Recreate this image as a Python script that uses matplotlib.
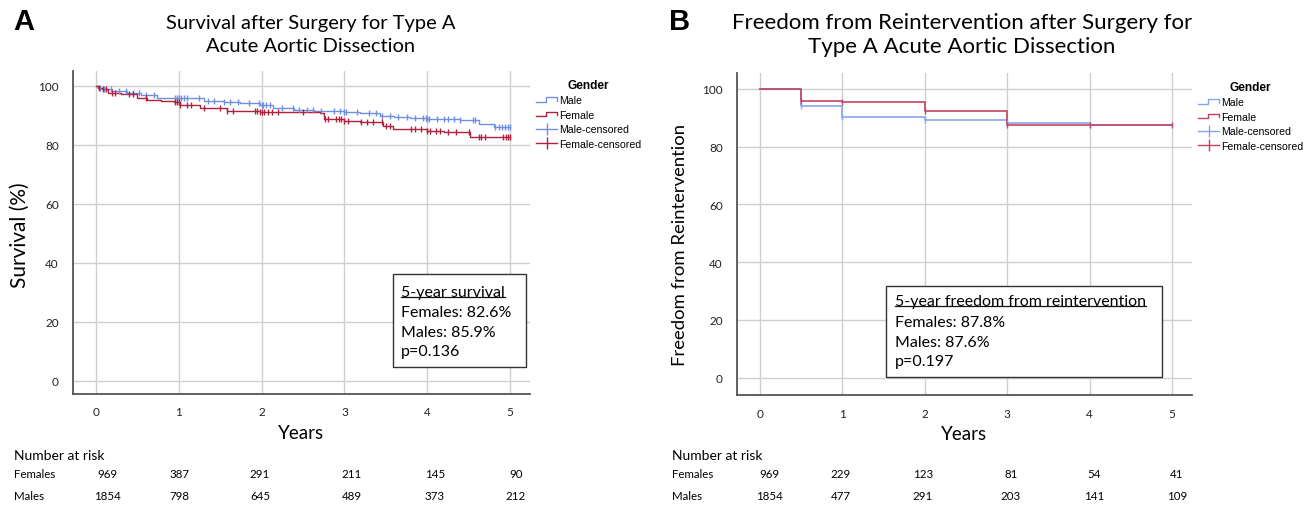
import numpy as np
import matplotlib
matplotlib.use("Agg")
import matplotlib.pyplot as plt
from matplotlib.legend_handler import HandlerBase
from matplotlib.lines import Line2D
from matplotlib.patches import Rectangle

# ---------------- data ----------------
years = [0, 1, 2, 3, 4, 5]
y_ticks = [0, 20, 40, 60, 80, 100]

# Panel A: survival (step curves, time in years / survival %)
a_male_t = [0, 0.03, 0.1, 0.2, 0.37, 0.55, 0.74, 0.96, 1.3, 1.55, 1.74, 1.98, 2.14, 2.39, 2.63, 2.99,
            3.19, 3.43, 3.6, 3.79, 4.0, 4.39, 4.63, 4.8]
a_male_s = [100, 99.4, 98.8, 98.1, 97.4, 96.8, 96.0, 95.7, 94.9, 94.5, 94.1, 93.6, 92.4, 91.9, 91.5, 91.2,
            90.6, 89.8, 89.4, 89.0, 88.7, 88.4, 87.2, 86.0]
a_female_t = [0, 0.02, 0.07, 0.15, 0.3, 0.5, 0.62, 0.78, 0.94, 1.02, 1.26, 1.58, 1.98, 2.39, 2.71, 2.75,
              3.0, 3.19, 3.47, 3.59, 3.79, 4.0, 4.2, 4.52]
a_female_s = [100, 99.4, 98.9, 97.7, 97.2, 96.0, 95.3, 94.7, 94.4, 93.6, 92.3, 91.5, 91.2, 91.0, 90.6, 88.7,
              88.1, 87.6, 86.4, 85.5, 85.3, 84.7, 84.2, 82.6]
a_male_cens = [0.05, 0.1, 0.18, 0.28, 0.36, 0.45, 0.52, 0.6, 0.7, 0.95, 0.98, 1.0, 1.03, 1.06, 1.1, 1.25,
               1.35, 1.42, 1.55, 1.62, 1.72, 1.85, 1.97, 2.0, 2.02, 2.05, 2.1, 2.25, 2.38, 2.45, 2.55,
               2.62, 2.72, 2.88, 2.95, 3.0, 3.02, 3.15, 3.3, 3.38, 3.45, 3.55, 3.65, 3.75, 3.85, 3.95,
               3.98, 4.0, 4.02, 4.12, 4.2, 4.25, 4.32, 4.4, 4.55, 4.58, 4.82, 4.86, 4.9, 4.94, 4.97, 5.0]
a_female_cens = [0.04, 0.09, 0.12, 0.2, 0.23, 0.4, 0.45, 0.6, 0.95, 0.98, 1.0, 1.02, 1.1, 1.15, 1.3, 1.5,
                 1.58, 1.65, 1.92, 1.95, 1.98, 2.0, 2.03, 2.08, 2.12, 2.2, 2.5, 2.77, 2.8, 2.9, 2.93,
                 2.96, 3.0, 3.04, 3.2, 3.27, 3.35, 3.45, 3.5, 3.55, 3.8, 3.85, 3.92, 4.0, 4.03, 4.1,
                 4.15, 4.25, 4.35, 4.5, 4.62, 4.65, 4.7, 4.92, 4.95, 4.98, 5.0]

# Panel B: freedom from reintervention
b_male_t = [0, 0.5, 1.0, 2.0, 3.0, 4.0]
b_male_s = [100, 94.0, 90.2, 89.3, 88.2, 87.6]
b_female_t = [0, 0.5, 1.0, 2.0, 3.0]
b_female_s = [100, 95.7, 95.3, 92.4, 87.6]
b_male_cens = [0.5, 1.0, 2.0, 3.0, 4.0]
b_female_cens = [0.5, 1.0, 2.0, 3.0, 4.0, 5.0]

# Number at risk
a_female_risk = [969, 387, 291, 211, 145, 90]
a_male_risk = [1854, 798, 645, 489, 373, 212]
b_female_risk = [969, 229, 123, 81, 54, 41]
b_male_risk = [1854, 477, 291, 203, 141, 109]

legend_labels = ["Male", "Female", "Male-censored", "Female-censored"]
# ---------------------------------------

W, H = 1316, 510
fig = plt.figure(figsize=(W / 100, H / 100), dpi=100)
FONT = "Lato"
LEG_FONT = "Liberation Sans"

def fx(px):
    return px / W

def fy(py):
    return 1 - py / H

BLUE = "#6f90e2"
RED = "#b0213c"
BLUE_B = "#86a4ee"
RED_B = "#c6405f"


class HandlerStep(HandlerBase):
    def create_artists(self, legend, orig_handle, xdescent, ydescent, width, height, fontsize, trans):
        x0, y0 = -xdescent, -ydescent
        xs = [x0, x0 + 0.45 * width, x0 + 0.45 * width, x0 + width, x0 + width]
        ys = [y0 + 0.2 * height, y0 + 0.2 * height, y0 + 0.85 * height, y0 + 0.85 * height, y0 + 0.35 * height]
        ln = Line2D(xs, ys, color=orig_handle.get_color(), lw=1.0, transform=trans)
        return [ln]


class HandlerCens(HandlerBase):
    def create_artists(self, legend, orig_handle, xdescent, ydescent, width, height, fontsize, trans):
        x0, y0 = -xdescent, -ydescent
        ln = Line2D([x0, x0 + width], [y0 + 0.45 * height] * 2, color=orig_handle.get_color(), lw=1.0,
                    transform=trans)
        mk = Line2D([x0 + 0.5 * width], [y0 + 0.45 * height], color=orig_handle.get_color(), marker="|",
                    markersize=9, mew=1.0, ls="none", transform=trans)
        return [ln, mk]


def step_value(ts, ss, t):
    idx = np.searchsorted(ts, t, side="right") - 1
    return np.asarray(ss)[idx]


def setup_axes(rect, ylim):
    ax = fig.add_axes(rect)
    ax.set_xlim(-0.28, 5.24)
    ax.set_ylim(*ylim)
    ax.set_xticks(years)
    ax.set_yticks(y_ticks)
    ax.grid(True, color="#cfcfcf", lw=1.0)
    ax.set_axisbelow(True)
    for s in ["top", "right"]:
        ax.spines[s].set_visible(False)
    for s in ["left", "bottom"]:
        ax.spines[s].set_color("#555555")
        ax.spines[s].set_linewidth(1.3)
    ax.tick_params(length=0, labelsize=8.5, colors="#222222")
    ax.tick_params(axis="y", pad=10)
    ax.tick_params(axis="x", pad=9)
    for lab in ax.get_xticklabels() + ax.get_yticklabels():
        lab.set_fontfamily(FONT)
    return ax


def draw_km(ax, t, s, cens, color, lw, alpha):
    tt = list(t) + [5.0]
    ss = list(s) + [s[-1]]
    ax.step(tt, ss, where="post", color=color, lw=lw, alpha=alpha, zorder=3)
    cy = step_value(t, s, np.asarray(cens))
    ax.plot(cens, cy, ls="none", marker="|", markersize=5, mew=1.0, color=color, alpha=alpha, zorder=4)


def add_legend(ax, mcol, fcol):
    handles = [Line2D([], [], color=mcol), Line2D([], [], color=fcol),
               Line2D([], [], color=mcol), Line2D([], [], color=fcol)]
    hmap = {handles[0]: HandlerStep(), handles[1]: HandlerStep(),
            handles[2]: HandlerCens(), handles[3]: HandlerCens()}
    leg = ax.legend(handles, legend_labels, handler_map=hmap, loc="upper left",
                    bbox_to_anchor=(1.0, 0.995), frameon=False,
                    prop={"family": LEG_FONT, "size": 7.6}, handlelength=2.0, handletextpad=0.15,
                    labelspacing=0.42, borderaxespad=0.2, title="Gender",
                    title_fontproperties={"family": LEG_FONT, "size": 8.6, "weight": "bold"})
    return leg


# ---------------- Panel A ----------------
axA = setup_axes([fx(72.7), 1 - 395 / H, (530 - 72.7) / W, (395 - 72) / H], (-4.5, 105))
draw_km(axA, a_male_t, a_male_s, a_male_cens, BLUE, 1.0, 1.0)
draw_km(axA, a_female_t, a_female_s, a_female_cens, RED, 1.0, 1.0)
add_legend(axA, BLUE, RED)
axA.set_xlabel("Years", fontfamily=FONT, fontsize=13.5, labelpad=5)
fig.text(fx(20), fy(235), "Survival (%)", rotation=90, ha="center", va="center",
         fontfamily=FONT, fontsize=15)

# ---------------- Panel B ----------------
axB = setup_axes([fx(736.7), 1 - 396 / H, (1192 - 736.7) / W, (396 - 74) / H], (-6, 105.5))
draw_km(axB, b_male_t, b_male_s, b_male_cens, BLUE_B, 1.3, 0.9)
draw_km(axB, b_female_t, b_female_s, b_female_cens, RED_B, 1.3, 0.9)
add_legend(axB, BLUE_B, RED_B)
axB.set_xlabel("Years", fontfamily=FONT, fontsize=13.5, labelpad=5)
fig.text(fx(680), fy(245), "Freedom from Reintervention", rotation=90, ha="center", va="center",
         fontfamily=FONT, fontsize=13.3)

# ---------------- Titles ----------------
fig.text(fx(311), fy(35), "Survival after Surgery for Type A\nAcute Aortic Dissection", ha="center",
         va="center", fontfamily=FONT, fontsize=14.5, linespacing=1.45)
fig.text(fx(962), fy(35), "Freedom from Reintervention after Surgery for\nType A Acute Aortic Dissection",
         ha="center", va="center", fontfamily=FONT, fontsize=16, linespacing=1.3)
fig.text(fx(13), fy(22), "A", ha="left", va="center", fontfamily="Liberation Sans", fontsize=21,
         fontweight="bold")
fig.text(fx(669), fy(22), "B", ha="left", va="center", fontfamily="Liberation Sans", fontsize=21,
         fontweight="bold")

# ---------------- Number at risk ----------------
a_cols = [107, 179, 260, 352, 435, 516]
b_cols = [769, 841, 923, 1011, 1094, 1177]


def risk_table(left, cols, fem, mal):
    fig.text(fx(left), fy(456), "Number at risk", ha="left", va="center", fontfamily=FONT, fontsize=10)
    fig.text(fx(left), fy(475), "Females", ha="left", va="center", fontfamily=FONT, fontsize=8.3)
    fig.text(fx(left), fy(497), "Males", ha="left", va="center", fontfamily=FONT, fontsize=8.3)
    for c, f, m in zip(cols, fem, mal):
        fig.text(fx(c), fy(475), str(f), ha="center", va="center", fontfamily=FONT, fontsize=8.3)
        fig.text(fx(c), fy(497), str(m), ha="center", va="center", fontfamily=FONT, fontsize=8.3)


risk_table(14, a_cols, a_female_risk, a_male_risk)
risk_table(672, b_cols, b_female_risk, b_male_risk)

# ---------------- Annotation boxes ----------------
def note_box(x0, y0, x1, y1, tx, line_ys, lines):
    rect = Rectangle((fx(x0), fy(y1)), fx(x1) - fx(x0), fy(y0) - fy(y1), transform=fig.transFigure,
                     facecolor="white", edgecolor="#333333", lw=1.0, zorder=10)
    fig.patches.append(rect)
    texts = []
    for ly, s in zip(line_ys, lines):
        t = fig.text(fx(tx), fy(ly), s, ha="left", va="center", fontfamily=FONT, fontsize=11.5, zorder=11)
        texts.append(t)
    return texts


tA = note_box(393, 275, 526, 368, 401, [293, 313, 333, 352],
              ["5-year survival", "Females: 82.6%", "Males: 85.9%", "p=0.136"])
tB = note_box(886, 287, 1162, 378, 895, [302, 323, 343, 362],
              ["5-year freedom from reintervention", "Females: 87.8%", "Males: 87.6%", "p=0.197"])

fig.canvas.draw()
r = fig.canvas.get_renderer()
for t in (tA[0], tB[0]):
    bb = t.get_window_extent(renderer=r)
    yline = (bb.y0 + 2) / fig.bbox.height
    fig.lines.append(Line2D([bb.x0 / fig.bbox.width, bb.x1 / fig.bbox.width], [yline, yline],
                            transform=fig.transFigure, color="#111111", lw=0.9, zorder=12))

fig.savefig("out.png", dpi=100)
